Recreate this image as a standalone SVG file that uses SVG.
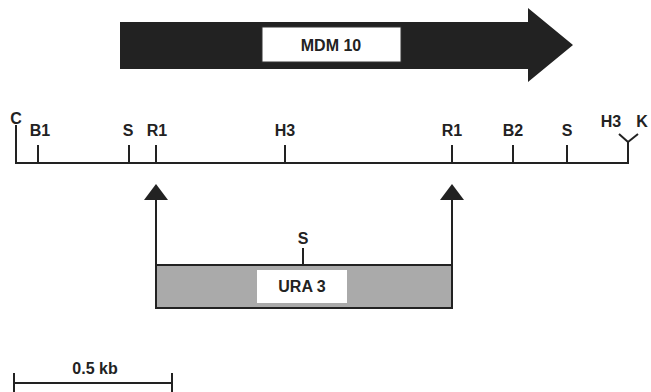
<svg xmlns="http://www.w3.org/2000/svg" width="651" height="392" viewBox="0 0 651 392">
<style>
.ln{stroke:#222;stroke-width:2;fill:none}
.lb{font-family:"Liberation Sans",Arial,sans-serif;font-weight:bold;font-size:16px;fill:#222;text-anchor:middle}
.bx{fill:#fff;stroke:#333;stroke-width:1}
</style>
<rect width="651" height="392" fill="#fff"/>
<g id="mdm10">
<path d="M120,22 H528 V8 L573,45 L528,82 V69 H120 Z" fill="#222"/>
<rect class="bx" x="262" y="27" width="139" height="35"/>
<text class="lb" x="331" y="51" font-size="15">MDM 10</text>
</g>
<g id="map">
<path class="ln" d="M16,125 V163 H628 V142"/>
<path class="ln" d="M619,134 L628,142 L638,134"/>
<path class="ln" d="M38,145 V163 M129,145 V163 M156,145 V163 M285,145 V163 M452,145 V163 M513,145 V163 M567,145 V163"/>
<text class="lb" x="16" y="124">C</text>
<text class="lb" x="40" y="136">B1</text>
<text class="lb" x="128" y="136">S</text>
<text class="lb" x="157" y="136">R1</text>
<text class="lb" x="285" y="136">H3</text>
<text class="lb" x="452" y="136">R1</text>
<text class="lb" x="513" y="136">B2</text>
<text class="lb" x="567" y="136">S</text>
<text class="lb" x="611" y="127">H3</text>
<text class="lb" x="642" y="127">K</text>
</g>
<g id="connectors">
<path class="ln" d="M156,198 V265 M452,198 V265"/>
<path d="M144,200 L156,184 L168,200 Z M440,200 L452,184 L464,200 Z" fill="#222"/>
</g>
<g id="ura3">
<rect x="156" y="265" width="296" height="43" fill="#aaa" stroke="#222" stroke-width="2"/>
<path class="ln" d="M303,248 V265"/>
<text class="lb" x="303" y="244">S</text>
<rect x="257" y="270" width="90" height="33" fill="#fff"/>
<text class="lb" x="302" y="292" font-size="15">URA 3</text>
</g>
<g id="scale">
<path class="ln" d="M14,383 H172 M14,373 V392 M172,373 V392"/>
<text class="lb" x="95" y="374" font-size="12">0.5 kb</text>
</g>
</svg>
